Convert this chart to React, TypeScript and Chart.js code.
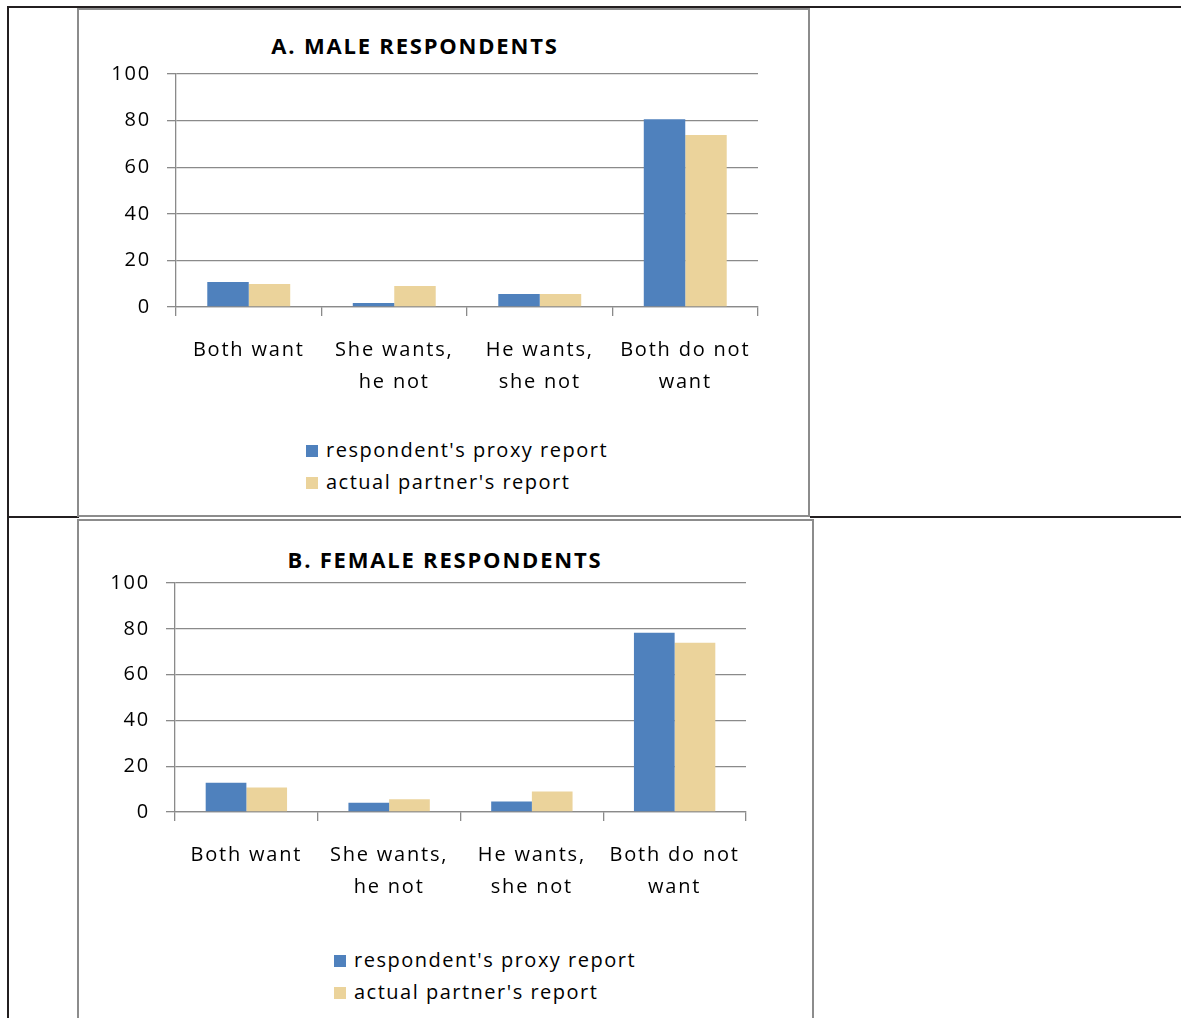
import React, { useEffect, useRef } from 'react';
import { Chart, registerables } from 'chart.js';

Chart.register(...registerables);

// ---- data ----
const categories: string[][] = [
  ['Both want'],
  ['She wants,', 'he not'],
  ['He wants,', 'she not'],
  ['Both do not', 'want'],
];
const seriesNames = ["respondent's proxy report", "actual partner's report"];
const maleProxy = [10.7, 1.7, 5.6, 80.6];
const malePartner = [9.9, 9.0, 5.6, 73.8];
const femaleProxy = [12.8, 4.0, 4.6, 78.3];
const femalePartner = [10.7, 5.6, 8.9, 73.9];
const yMin = 0;
const yMax = 100;
const yStep = 20;
const titleMale = 'A. MALE RESPONDENTS';
const titleFemale = 'B. FEMALE RESPONDENTS';

// ---- styles ----
const BLUE = '#4F81BD';
const TAN = '#EBD39B';
const GRID = '#8a8a8a';
const FONT = "'Open Sans', sans-serif";
const TABLE = '#231f20';
const FRAME = '#8c8c8c';
const TEXT = '#000';

const spacingPlugin = {
  id: 'letterSpacing',
  beforeDraw(chart: any) {
    try {
      (chart.ctx as any).letterSpacing = '1.8px';
    } catch (e) {}
  },
};

type Dims = {
  left: number;
  top: number;
  width: number;
  height: number;
  yWidth: number;
  xHeight: number;
  padTop: number;
  padRight: number;
};

function BarChart({ proxy, partner, dims }: { proxy: number[]; partner: number[]; dims: Dims }) {
  const ref = useRef<HTMLCanvasElement | null>(null);
  useEffect(() => {
    if (!ref.current) return;
    const tickFont = { family: FONT, size: 20, lineHeight: 1.6 };
    const chart = new Chart(ref.current, {
      type: 'bar',
      data: {
        labels: categories,
        datasets: [
          { label: seriesNames[0], data: proxy, backgroundColor: BLUE, borderWidth: 0 },
          { label: seriesNames[1], data: partner, backgroundColor: TAN, borderWidth: 0 },
        ],
      },
      options: {
        animation: false,
        responsive: false,
        maintainAspectRatio: false,
        layout: { padding: { top: dims.padTop, right: dims.padRight, left: 0, bottom: 0 } },
        datasets: { bar: { categoryPercentage: 0.57, barPercentage: 1 } },
        plugins: {
          legend: { display: false },
          title: { display: false },
          tooltip: { enabled: false },
        },
        scales: {
          x: {
            grid: {
              display: true,
              drawOnChartArea: false,
              drawTicks: true,
              tickLength: 9,
              color: GRID,
              lineWidth: 1.3,
              offset: true,
            },
            border: { display: true, color: GRID, width: 1.3 },
            ticks: {
              font: tickFont,
              color: TEXT,
              padding: 18,
              maxRotation: 0,
              autoSkip: false,
            },
            afterFit: (s: any) => {
              s.height = dims.xHeight;
            },
          },
          y: {
            min: yMin,
            max: yMax,
            ticks: { stepSize: yStep, font: { family: FONT, size: 20 }, color: TEXT, padding: 16 },
            grid: { color: GRID, lineWidth: 1.3, tickLength: 9, drawTicks: true },
            border: { display: true, color: GRID, width: 1.3 },
            afterFit: (s: any) => {
              s.width = dims.yWidth;
            },
          },
        },
      } as any,
      plugins: [spacingPlugin],
    });
    return () => chart.destroy();
  }, []);
  return (
    <canvas
      ref={ref}
      width={dims.width}
      height={dims.height}
      style={{
        position: 'absolute',
        left: dims.left,
        top: dims.top,
        width: dims.width,
        height: dims.height,
      }}
    />
  );
}

function Legend({ left, top }: { left: number; top: number }) {
  const colors = [BLUE, TAN];
  return (
    <>
      {seriesNames.map((n, i) => (
        <div key={n}>
          <div
            style={{
              position: 'absolute',
              left: left,
              top: top + 4 + i * 32,
              width: 12,
              height: 12,
              background: colors[i],
            }}
          />
          <div
            style={{
              position: 'absolute',
              left: left + 20,
              top: top - 1 + i * 32,
              font: `20px ${FONT}`,
              lineHeight: '20px',
              letterSpacing: '1.5px',
              color: TEXT,
              whiteSpace: 'nowrap',
            }}
          >
            {n}
          </div>
        </div>
      ))}
    </>
  );
}

function Title({ text, cx, top }: { text: string; cx: number; top: number }) {
  return (
    <div
      style={{
        position: 'absolute',
        left: cx - 300,
        width: 600,
        top,
        textAlign: 'center',
        font: `bold 22px ${FONT}`,
        lineHeight: '22px',
        letterSpacing: '1.8px',
        color: TEXT,
        whiteSpace: 'nowrap',
      }}
    >
      {text}
    </div>
  );
}

export default function App() {
  return (
    <div
      style={{
        position: 'absolute',
        left: 0,
        top: 0,
        width: 1181,
        height: 1018,
        overflow: 'hidden',
        background: '#fff',
      }}
    >
      {/* table lines */}
      <div style={{ position: 'absolute', left: 7, top: 6, width: 1174, height: 2, background: TABLE }} />
      <div style={{ position: 'absolute', left: 7, top: 6, width: 2, height: 1012, background: TABLE }} />
      <div style={{ position: 'absolute', left: 7, top: 516, width: 72, height: 2, background: TABLE }} />
      <div style={{ position: 'absolute', left: 810, top: 516, width: 371, height: 2, background: TABLE }} />

      {/* frame A */}
      <div
        style={{
          position: 'absolute',
          left: 77,
          top: 8,
          width: 733,
          height: 509,
          boxSizing: 'border-box',
          border: `2px solid ${FRAME}`,
        }}
      />
      {/* frame B */}
      <div
        style={{
          position: 'absolute',
          left: 77,
          top: 519,
          width: 737,
          height: 540,
          boxSizing: 'border-box',
          border: `2px solid ${FRAME}`,
        }}
      />

      <Title text={titleMale} cx={415} top={34} />
      <BarChart
        proxy={maleProxy}
        partner={malePartner}
        dims={{ left: 79, top: 10, width: 729, height: 420, yWidth: 97, xHeight: 123, padTop: 64, padRight: 50 }}
      />
      <Legend left={306} top={441} />

      <Title text={titleFemale} cx={445} top={548} />
      <BarChart
        proxy={femaleProxy}
        partner={femalePartner}
        dims={{ left: 79, top: 521, width: 733, height: 420, yWidth: 96, xHeight: 129, padTop: 62, padRight: 66 }}
      />
      <Legend left={334} top={951} />
    </div>
  );
}
